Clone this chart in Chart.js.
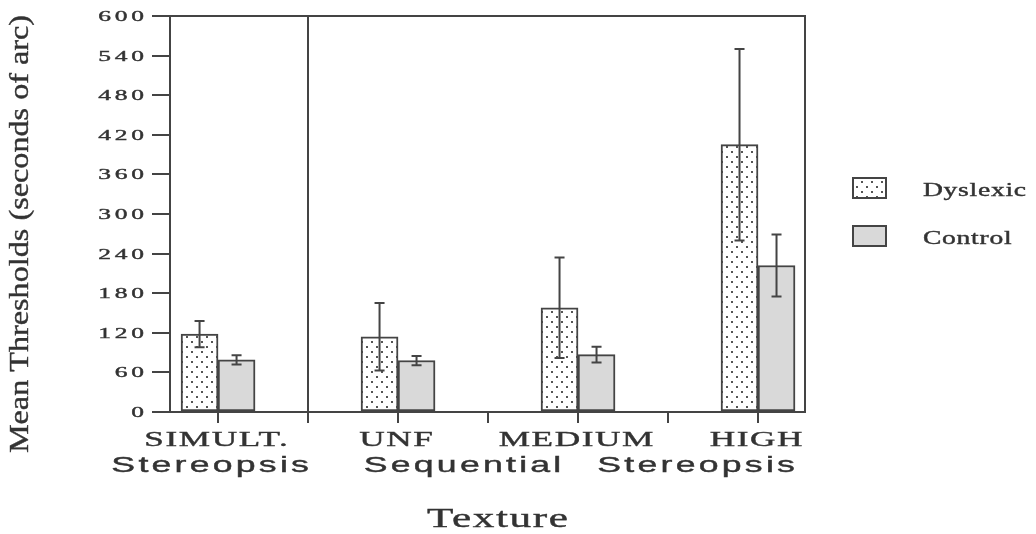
<!DOCTYPE html>
<html>
<head>
<meta charset="utf-8">
<script src="https://cdn.jsdelivr.net/npm/chart.js@4.4.0/dist/chart.umd.min.js"></script>
<style>
  html, body { margin: 0; padding: 0; background: #fff; }
  canvas { display: block; }
</style>
</head>
<body>
<canvas id="grafik" width="1036" height="534"></canvas>
<script>
// data
const categories = ['SIMULT.', 'UNF', 'MEDIUM', 'HIGH'];
const groupLabels = ['Stereopsis', 'Sequential', 'Stereopsis'];
const seriesNames = ['Dyslexic', 'Control'];
const dyslexic = [118, 114, 158, 405];
const dyslexicErr = [20, 51, 76, 145];
const control = [79, 78, 87, 222];
const controlErr = [7, 7, 12, 47];
const xTickValues = [0, 0.5, 1, 1.5, 2, 2.5, 3];

const INK = '#444';
const TEXT = '#333';
const SERIF = '"Liberation Serif", "Times New Roman", serif';
const SANS = '"Liberation Sans", Arial, sans-serif';

// dotted fill for the dyslexic bars
function dotPattern() {
    const c = document.createElement('canvas');
    c.width = 10; c.height = 10;
    const g = c.getContext('2d');
    g.fillStyle = '#fff';
    g.fillRect(0, 0, 10, 10);
    g.fillStyle = '#555';
    g.fillRect(1, 1, 2, 2);
    g.fillRect(6, 6, 2, 2);
    return document.getElementById('grafik').getContext('2d').createPattern(c, 'repeat');
}
const dots = dotPattern();

// text drawn wide and a bit heavy, like the scanned figure
function wideText(ctx, text, x, y, font, sx, spacing, align) {
    ctx.save();
    ctx.font = font;
    ctx.letterSpacing = spacing + 'px';
    const w = ctx.measureText(text).width - spacing;
    ctx.translate(x, y);
    ctx.scale(sx, 1);
    ctx.textAlign = 'left';
    ctx.textBaseline = 'alphabetic';
    ctx.fillStyle = TEXT;
    ctx.strokeStyle = TEXT;
    ctx.lineWidth = 0.4;
    let start = 0;
    if (align === 'center') start = -w / 2;
    else if (align === 'right') start = -w;
    ctx.fillText(text, start, 0);
    ctx.strokeText(text, start, 0);
    ctx.restore();
}

const cizimEkleri = {
    id: 'cizimEkleri',
    afterDatasetsDraw(chart) {
        const ctx = chart.ctx;
        const y = chart.scales.y;
        const errs = [dyslexicErr, controlErr];
        ctx.save();
        ctx.strokeStyle = INK;
        ctx.lineWidth = 2;
        chart.data.datasets.forEach((ds, i) => {
            const meta = chart.getDatasetMeta(i);
            meta.data.forEach((bar, j) => {
                const v = ds.data[j].y;
                const top = y.getPixelForValue(v + errs[i][j]);
                const bot = y.getPixelForValue(v - errs[i][j]);
                ctx.beginPath();
                ctx.moveTo(bar.x, top); ctx.lineTo(bar.x, bot);
                ctx.moveTo(bar.x - 5, top); ctx.lineTo(bar.x + 5, top);
                ctx.moveTo(bar.x - 5, bot); ctx.lineTo(bar.x + 5, bot);
                ctx.stroke();
            });
        });
        ctx.restore();
    },
    afterDraw(chart) {
        const ctx = chart.ctx;
        const a = chart.chartArea;
        const x = chart.scales.x;
        const y = chart.scales.y;

        // frame top/right and the separator between the two conditions
        ctx.save();
        ctx.strokeStyle = INK;
        ctx.lineWidth = 2;
        ctx.beginPath();
        ctx.moveTo(a.left, a.top); ctx.lineTo(a.right, a.top); ctx.lineTo(a.right, a.bottom);
        const sep = Math.round(x.getPixelForValue(0.5));
        ctx.moveTo(sep, a.top); ctx.lineTo(sep, a.bottom);
        ctx.stroke();
        ctx.restore();

        // y tick labels
        y.ticks.forEach(t => {
            const py = y.getPixelForValue(t.value);
            wideText(ctx, String(t.value), a.left - 26, py + 5, '15px ' + SERIF, 1.7, 2.2, 'right');
        });

        // category labels and second row
        categories.forEach((c, i) => {
            wideText(ctx, c, x.getPixelForValue(i) - 2, a.bottom + 34, '22px ' + SERIF, 1.6, 1, 'center');
        });
        const groupAt = [-0.044, 1.358, 2.656];
        groupLabels.forEach((g, i) => {
            wideText(ctx, g, x.getPixelForValue(groupAt[i]), a.bottom + 60, '22px ' + SANS, 1.62, 2, 'center');
        });

        // axis titles
        wideText(ctx, 'Texture', (a.left + a.right) / 2 + 10, 527, '27px ' + SERIF, 1.6, 1, 'center');
        ctx.save();
        ctx.translate(28, (a.top + a.bottom) / 2 + 20);
        ctx.rotate(-Math.PI / 2);
        wideText(ctx, 'Mean Thresholds (seconds of arc)', 0, 0, '28px ' + SERIF, 1.15, 0, 'center');
        ctx.restore();

        // legend
        const fills = [dots, '#d9d9d9'];
        const rows = [178, 226];
        seriesNames.forEach((n, i) => {
            ctx.save();
            ctx.fillStyle = fills[i];
            ctx.fillRect(853, rows[i], 33, 20);
            ctx.strokeStyle = INK;
            ctx.lineWidth = 2;
            ctx.strokeRect(853, rows[i], 33, 20);
            ctx.restore();
            wideText(ctx, n, 923, rows[i] + 18, '19px ' + SERIF, 1.45, 0.5, 'left');
        });
    }
};

new Chart(document.getElementById('grafik'), {
    type: 'bar',
    data: {
        datasets: [
            {
                label: seriesNames[0],
                data: dyslexic.map((v, i) => ({ x: i, y: v })),
                backgroundColor: dots,
                borderColor: INK,
                borderWidth: 2,
                borderSkipped: false
            },
            {
                label: seriesNames[1],
                data: control.map((v, i) => ({ x: i, y: v })),
                backgroundColor: '#d9d9d9',
                borderColor: INK,
                borderWidth: 2,
                borderSkipped: false
            }
        ]
    },
    options: {
        responsive: false,
        animation: false,
        barThickness: 37,
        layout: { padding: { left: 152, top: 16, right: 231, bottom: 111 } },
        plugins: { legend: { display: false }, tooltip: { enabled: false } },
        scales: {
            x: {
                type: 'linear',
                offset: false,
                min: -0.267,
                max: 3.261,
                afterBuildTicks: s => { s.ticks = xTickValues.map(v => ({ value: v })); },
                ticks: { display: false },
                grid: { offset: false, drawOnChartArea: false, drawTicks: true, tickLength: 11, color: INK, lineWidth: 2 },
                border: { display: true, color: INK, width: 2 }
            },
            y: {
                min: 0,
                max: 600,
                ticks: { display: false, stepSize: 60 },
                grid: { drawOnChartArea: false, drawTicks: true, tickLength: 18, color: INK, lineWidth: 2 },
                border: { display: true, color: INK, width: 2 }
            }
        }
    },
    plugins: [cizimEkleri]
});
</script>
</body>
</html>
